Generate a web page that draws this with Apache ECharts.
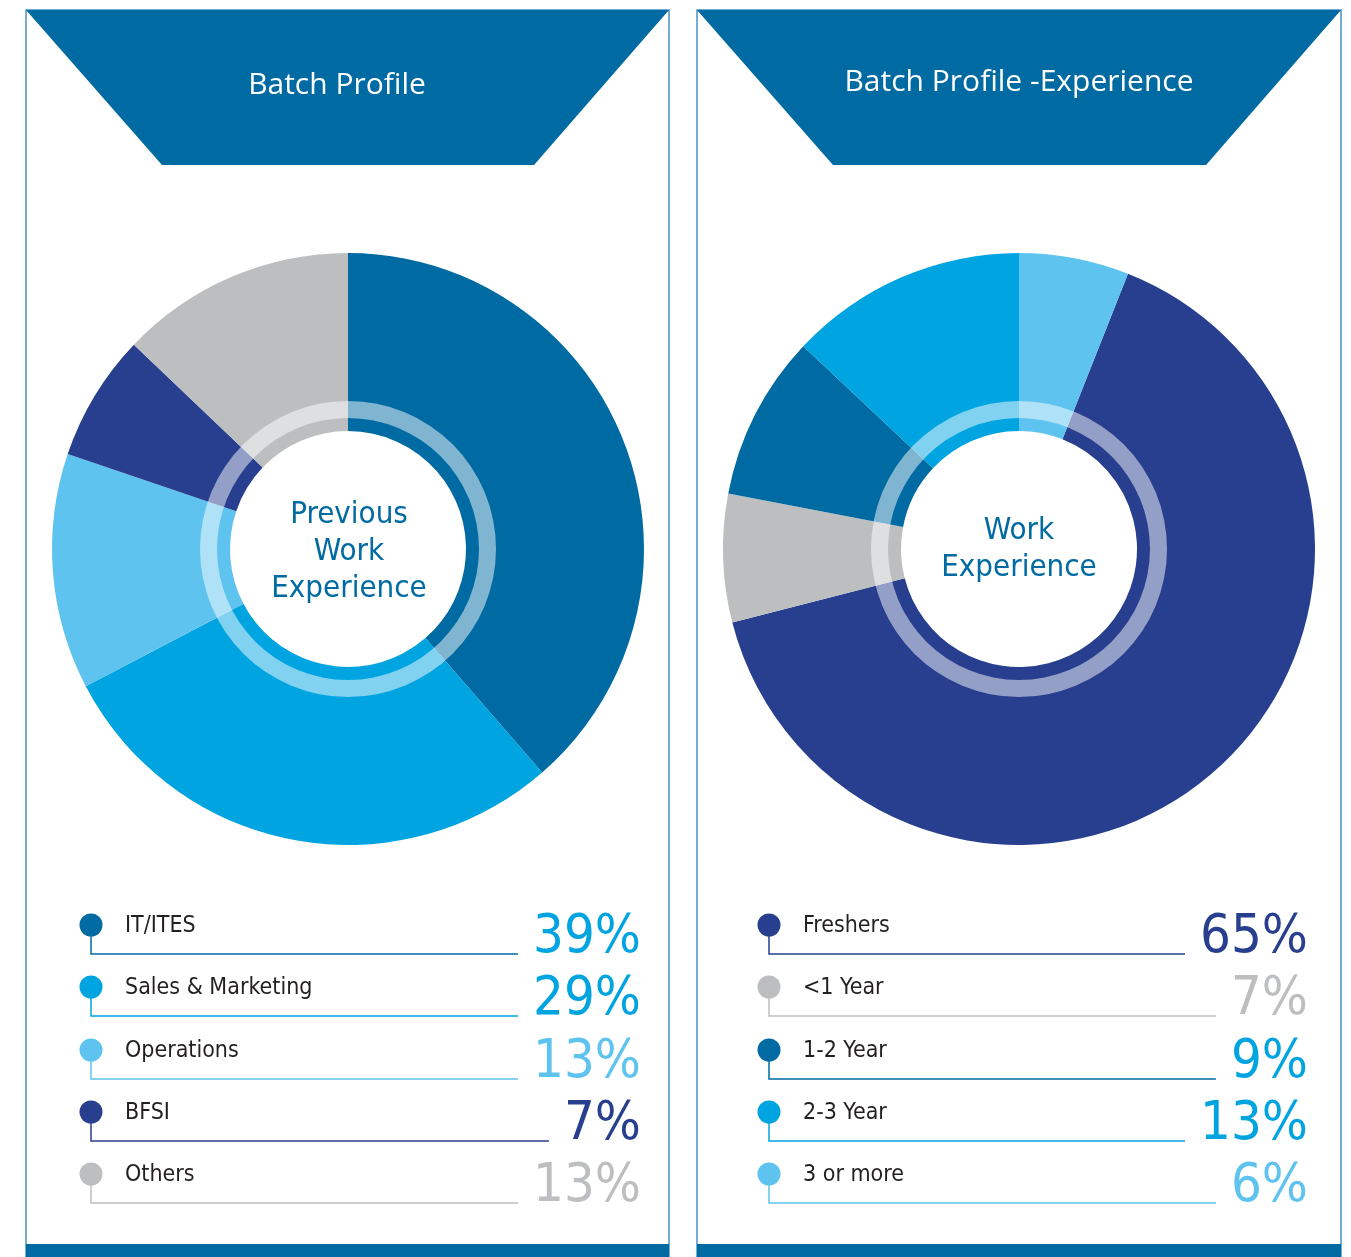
<!DOCTYPE html>
<html>
  <head>
    <meta charset="utf-8" />
    <script src="https://cdn.jsdelivr.net/npm/echarts/dist/echarts.min.js"></script>
    <style>
      html, body { margin: 0; padding: 0; background: #fff; }
    </style>
  </head>
  <body>
    <div id="main" style="width: 1351px; height: 1257px;"></div>
    <script>
        // Data
        var leftCats = ['IT/ITES', 'Sales & Marketing', 'Operations', 'BFSI', 'Others'];
        var leftValues = [39, 29, 13, 7, 13];
        var rightCats = ['Freshers', '<1 Year', '1-2 Year', '2-3 Year', '3 or more'];
        var rightValues = [65, 7, 9, 13, 6];

        // Palette
        var DARK = '#006AA3', BRIGHT = '#00A4E0', LIGHT = '#5EC3EF', NAVY = '#273F8E', GREY = '#BDBEC0';
        var leftColors = [DARK, BRIGHT, LIGHT, NAVY, GREY];
        var leftPctColors = [BRIGHT, BRIGHT, LIGHT, NAVY, GREY];
        var rightColors = [NAVY, GREY, DARK, BRIGHT, LIGHT];
        var rightPctColors = [NAVY, GREY, BRIGHT, BRIGHT, LIGHT];

        var bodyFont = "'DejaVu Sans Condensed', 'DejaVu Sans', sans-serif";
        var titleFont = "'Open Sans', sans-serif";

        var measureCtx = document.createElement('canvas').getContext('2d');
        function textWidth(str, font) {
            measureCtx.font = font;
            return measureCtx.measureText(str).width;
        }

        function pieSeries(values, cats, colors, cx, cy, startAngle) {
            return {
                type: 'pie',
                center: [cx, cy],
                radius: [118, 296],
                startAngle: startAngle,
                clockwise: true,
                silent: true,
                label: { show: false },
                labelLine: { show: false },
                itemStyle: { borderWidth: 0 },
                data: values.map(function (v, i) {
                    return { name: cats[i], value: v, itemStyle: { color: colors[i] } };
                })
            };
        }

        // translucent white ring laid over the donut
        function ringSeries(cx, cy) {
            return {
                type: 'pie',
                center: [cx, cy],
                radius: [131, 148],
                silent: true,
                z: 5,
                label: { show: false },
                labelLine: { show: false },
                itemStyle: { color: 'rgba(255,255,255,0.5)', borderWidth: 0 },
                data: [{ value: 1 }]
            };
        }

        function panel(x0, x1, botL, botR, title, titleX, titleY) {
            return [
                {
                    type: 'rect', z: 0,
                    shape: { x: x0, y: 10, width: x1 - x0, height: 1250 },
                    style: { fill: '#fff', stroke: '#4A93C8', lineWidth: 1.5 }
                },
                {
                    type: 'polygon', z: 1,
                    shape: { points: [[x0, 10], [x1, 10], [botR, 165], [botL, 165]] },
                    style: { fill: DARK }
                },
                {
                    type: 'rect', z: 1,
                    shape: { x: x0, y: 1244, width: x1 - x0, height: 13 },
                    style: { fill: DARK }
                },
                {
                    type: 'text', z: 2,
                    x: titleX, y: titleY,
                    style: { text: title, fill: '#fff', font: '30px ' + titleFont, align: 'center', verticalAlign: 'middle' }
                }
            ];
        }

        function centerText(text, cx, cy) {
            return {
                type: 'text', z: 10,
                x: cx, y: cy,
                style: {
                    text: text, fill: DARK, font: '31px ' + bodyFont,
                    align: 'center', verticalAlign: 'middle', lineHeight: 37
                }
            };
        }

        function legendRows(cats, values, colors, pctColors, dotX, labelX, rightX) {
            var rowY = [925, 987, 1050, 1112, 1174];
            var els = [];
            var pctFont = '54px ' + bodyFont;
            cats.forEach(function (cat, i) {
                var y = rowY[i];
                var pct = values[i] + '%';
                var lineEnd = rightX - textWidth(pct, pctFont) - 15;
                els.push({
                    type: 'polyline', z: 2,
                    shape: { points: [[dotX, y], [dotX, y + 29], [lineEnd, y + 29]] },
                    style: { stroke: colors[i], lineWidth: 1.5, fill: null }
                });
                els.push({
                    type: 'circle', z: 3,
                    shape: { cx: dotX, cy: y, r: 11.5 },
                    style: { fill: colors[i] }
                });
                els.push({
                    type: 'text', z: 3,
                    x: labelX, y: y + 1,
                    style: { text: cat, fill: '#231F20', font: '23px ' + bodyFont, verticalAlign: 'middle' }
                });
                els.push({
                    type: 'text', z: 3,
                    x: rightX, y: y + 13,
                    style: { text: pct, fill: pctColors[i], font: pctFont, align: 'right', verticalAlign: 'middle' }
                });
            });
            return els;
        }

        var rightTotal = rightValues.reduce(function (a, b) { return a + b; }, 0);
        var rightStart = 90 - 360 * rightValues[rightValues.length - 1] / rightTotal;

        var graphics = []
            .concat(panel(26, 669, 162, 534, 'Batch Profile', 337, 85))
            .concat(panel(697, 1341, 833, 1206, 'Batch Profile -Experience', 1019, 82))
            .concat([
                centerText('Previous\nWork\nExperience', 349, 552),
                centerText('Work\nExperience', 1019, 549)
            ])
            .concat(legendRows(leftCats, leftValues, leftColors, leftPctColors, 91, 125, 641))
            .concat(legendRows(rightCats, rightValues, rightColors, rightPctColors, 769, 803, 1308));

        var chart = echarts.init(document.getElementById('main'), null, { renderer: 'canvas' });
        chart.setOption({
            animation: false,
            backgroundColor: '#fff',
            graphic: { elements: graphics },
            series: [
                pieSeries(leftValues, leftCats, leftColors, 348, 549, 90),
                ringSeries(348, 549),
                pieSeries(rightValues, rightCats, rightColors, 1019, 549, rightStart),
                ringSeries(1019, 549)
            ]
        });
    </script>
  </body>
</html>
